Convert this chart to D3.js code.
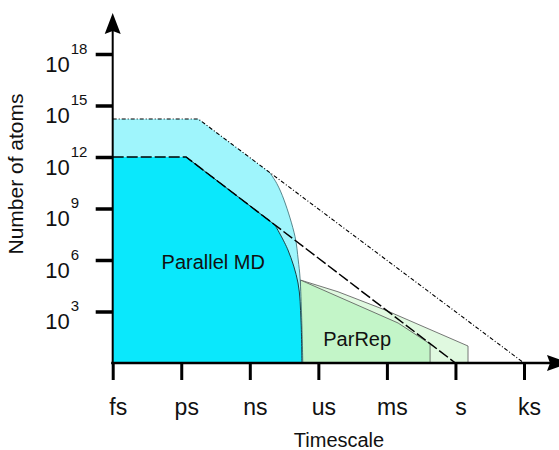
<!DOCTYPE html>
<html>
<head>
<meta charset="utf-8">
<script src="https://cdn.jsdelivr.net/npm/d3@7"></script>
<style>
  body { margin: 0; background: #fff; }
  svg { display: block; font-family: "Liberation Sans", Arial, Helvetica, sans-serif; }
</style>
</head>
<body>
<div id="chart"></div>
<script>
// timescale units (log10 seconds) and atom-count ticks (log10 N)
const units = ["fs", "ps", "ns", "us", "ms", "s", "ks"];
const unitExp = [-15, -12, -9, -6, -3, 0, 3];
const atomExp = [3, 6, 9, 12, 15, 18];

// parallel MD envelopes: [log10 t, log10 N]
const mdOuterStraight = [[-15, 14.21], [-11.25, 14.21], [-8.12, 11.08]];
const mdOuterCurve = [[-8.12, 11.08], [-7.82, 10.46], [-7.50, 9.49], [-7.02, 7.36], [-6.88, 6.0], [-6.80, 4.95], [-6.73, 2.66], [-6.68, 0]];
const mdInnerStraight = [[-15, 12], [-11.79, 12], [-7.90, 8.04]];
const mdInnerCurve = [[-7.90, 8.04], [-7.33, 6.58], [-6.89, 4.66], [-6.76, 2.5], [-6.72, 0]];

// ParRep regions
const parRepOuter = [[-6.78, 4.83], [-5.14, 4.15], [-3.08, 3.09], [0.55, 0.99], [0.55, 0]];
const parRepInner = [[-6.78, 4.83], [-2.51, 2.33], [-1.11, 1.11], [-1.11, 0]];

// limit lines
const limitDashDot = [[-15, 14.21], [-11.25, 14.21], [3, 0]];
const limitDashed = [[-15, 12], [-11.79, 12], [0, 0]];

const width = 559,
    height = 450;

const svg = d3.select("#chart")
    .append("svg")
    .attr("width", width)
    .attr("height", height)
    .attr("viewBox", [0, 0, width, height]);

const x = d3.scaleLinear([-15, 3], [112.7, 524]);
const y = d3.scaleLinear([0, 18], [363, 54]);

const line = d3.line().x(d => x(d[0])).y(d => y(d[1]));
const curve = d3.line().x(d => x(d[0])).y(d => y(d[1])).curve(d3.curveCatmullRom.alpha(0.5));

const join = (a, b) => a + b.replace(/^M/, "L");
const closeToAxis = (pts) => `L${x(pts[pts.length - 1][0])},${y(0)}L${x(pts[0][0])},${y(0)}Z`;

// green ParRep
svg.append("path")
    .attr("d", line(parRepOuter) + `L${x(parRepOuter[0][0])},${y(0)}Z`)
    .attr("fill", "#e0f9e0")
    .attr("stroke", "#555")
    .attr("stroke-width", 0.8);

svg.append("path")
    .attr("d", line(parRepInner) + `L${x(parRepInner[0][0])},${y(0)}Z`)
    .attr("fill", "#c3f5c8")
    .attr("stroke", "#555")
    .attr("stroke-width", 0.8);

// parallel MD, outer (light)
svg.append("path")
    .attr("d", join(line(mdOuterStraight), curve(mdOuterCurve)) + closeToAxis(mdOuterStraight.concat(mdOuterCurve)))
    .attr("fill", "#9ff5fc");

svg.append("path")
    .attr("d", curve(mdOuterCurve))
    .attr("fill", "none")
    .attr("stroke", "#3a6a70")
    .attr("stroke-width", 0.8);

// parallel MD, inner (bright)
svg.append("path")
    .attr("d", join(line(mdInnerStraight), curve(mdInnerCurve)) + closeToAxis(mdInnerStraight.concat(mdInnerCurve)))
    .attr("fill", "#0ae8fc");

svg.append("path")
    .attr("d", join(line(mdInnerStraight.slice(1)), curve(mdInnerCurve)))
    .attr("fill", "none")
    .attr("stroke", "#1d3f44")
    .attr("stroke-width", 1);

// limit lines
svg.append("path")
    .attr("d", line(limitDashDot))
    .attr("fill", "none")
    .attr("stroke", "#000")
    .attr("stroke-width", 1.1)
    .attr("stroke-dasharray", "4,2,1,2");

svg.append("path")
    .attr("d", line(limitDashed))
    .attr("fill", "none")
    .attr("stroke", "#000")
    .attr("stroke-width", 1.5)
    .attr("stroke-dasharray", "11,3");

// axes
const xAxis = svg.append("g")
    .attr("transform", `translate(0,${y(0)})`)
    .call(d3.axisBottom(x).tickValues(unitExp).tickFormat((d, i) => units[i]).tickSize(17));

xAxis.select(".domain").remove();
xAxis.selectAll(".tick line").attr("stroke", "#000").attr("stroke-width", 3);
xAxis.selectAll(".tick text")
    .attr("y", 52)
    .attr("dy", 0)
    .attr("dx", 5)
    .style("font-size", "23px")
    .attr("fill", "#111");

const yAxis = svg.append("g")
    .attr("transform", `translate(${x(-15)},0)`)
    .call(d3.axisLeft(y).tickValues(atomExp).tickSize(17));

yAxis.select(".domain").remove();
yAxis.selectAll(".tick line").attr("stroke", "#000").attr("stroke-width", 3.5);
yAxis.selectAll(".tick text")
    .attr("text-anchor", "start")
    .attr("x", -67.5)
    .attr("y", 17)
    .attr("dy", 0)
    .attr("fill", "#111")
    .each(function (d) {
        const t = d3.select(this).text(null);
        t.append("tspan").style("font-size", "22px").text("10");
        t.append("tspan").style("font-size", "15px").attr("dy", -18).attr("dx", 1).text(d);
    });

// axis lines with arrows
svg.append("line")
    .attr("x1", x(-15) - 1.5).attr("x2", 550)
    .attr("y1", y(0)).attr("y2", y(0))
    .attr("stroke", "#000").attr("stroke-width", 2.5);

svg.append("line")
    .attr("x1", x(-15)).attr("x2", x(-15))
    .attr("y1", y(0) + 1).attr("y2", 30)
    .attr("stroke", "#000").attr("stroke-width", 2);

svg.append("path")
    .attr("d", `M${x(-15)},13L${x(-15) + 8},34L${x(-15)},31L${x(-15) - 8},34Z`)
    .attr("fill", "#000");

svg.append("path")
    .attr("d", `M569,${y(0)}L547,${y(0) - 8}L550,${y(0)}L547,${y(0) + 8}Z`)
    .attr("fill", "#000");

// labels
svg.append("text")
    .attr("x", x(-10.6))
    .attr("y", y(5.5))
    .attr("text-anchor", "middle")
    .style("font-size", "20px")
    .attr("fill", "#111")
    .text("Parallel MD");

svg.append("text")
    .attr("x", x(-4.3))
    .attr("y", y(1.0))
    .attr("text-anchor", "middle")
    .style("font-size", "20px")
    .attr("fill", "#111")
    .text("ParRep");

svg.append("text")
    .attr("x", 339)
    .attr("y", 447)
    .attr("text-anchor", "middle")
    .style("font-size", "20px")
    .attr("fill", "#111")
    .text("Timescale");

svg.append("text")
    .attr("transform", "translate(23,174) rotate(-90)")
    .attr("text-anchor", "middle")
    .style("font-size", "21px")
    .attr("fill", "#111")
    .text("Number of atoms");
</script>
</body>
</html>
